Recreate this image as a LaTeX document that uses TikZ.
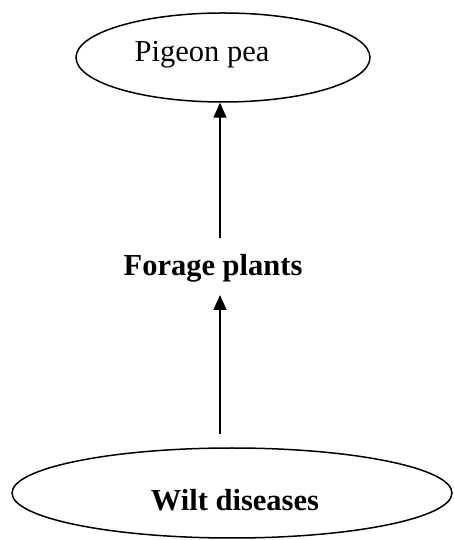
\documentclass[tikz,border=0pt]{standalone}
\usepackage{fontspec}
\setmainfont{Liberation Serif}
\usetikzlibrary{shapes.geometric,arrows.meta}
\begin{document}
\begin{tikzpicture}[x=1pt,y=1pt,
  oval/.style={draw,ellipse,line width=1.5pt,inner sep=0pt},
  lbl/.style={inner sep=0pt,font=\fontsize{30.5}{36}\selectfont},
  arr/.style={line width=1.4pt,-{Triangle[length=15pt,width=13pt]}}]
\useasboundingbox (0,0) rectangle (454,540);
\node[oval,minimum width=294pt,minimum height=89pt] (pp) at (223,482.5) {};
\node[lbl] (pptext) at (202,485) {Pigeon pea};
\node[lbl,font=\fontsize{30.5}{36}\selectfont\bfseries] (fp) at (213,272) {Forage plants};
\node[oval,minimum width=440pt,minimum height=90pt] (wd) at (232,47) {};
\node[lbl,font=\fontsize{30.5}{36}\selectfont\bfseries] (wdtext) at (235,40) {Wilt diseases};
\coordinate (a1s) at (220,302);
\coordinate (a2s) at (220,106);
\coordinate (a2e) at (220,245);
\draw[arr] (a1s) -- (a1s |- pp.south);
\draw[arr] (a2s) -- (a2e);
\end{tikzpicture}
\end{document}
